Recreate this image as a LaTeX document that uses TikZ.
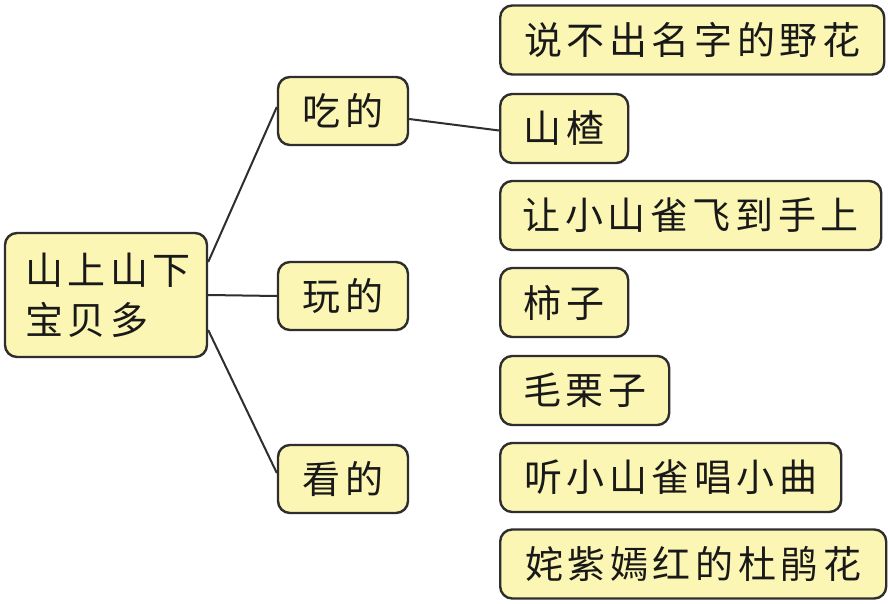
\documentclass[tikz,border=0pt]{standalone}
\usepackage{fontspec}
\newfontfamily\cjk[LetterSpace=12]{Noto Sans CJK SC}
\definecolor{boxfill}{HTML}{FCF6B4}
\definecolor{boxline}{HTML}{2E2E2E}
\tikzset{
  box/.style={draw=boxline, line width=2.4pt, fill=boxfill, rounded corners=12pt,
    minimum height=69pt, inner sep=0pt,
    font=\cjk\fontsize{38pt}{50pt}\selectfont, text=black!90},
  link/.style={draw=boxline, line width=2pt}
}
\begin{document}
\begin{tikzpicture}[x=1pt,y=-1pt]
\useasboundingbox (0,0) rectangle (888,604);
\fill[white] (0,0) rectangle (888,604);
% root
\node[box, minimum width=202pt, minimum height=124pt, text width=162pt, align=left] (root) at (106,295) {山上山下\\宝贝多};
% middle
\node[box, minimum width=130pt, minimum height=68pt] (eat) at (343,111) {吃的};
\node[box, minimum width=130pt, minimum height=68pt] (play) at (343,296) {玩的};
\node[box, minimum width=130pt, minimum height=68pt] (see) at (343,479) {看的};
% right
\node[box, minimum width=384pt, anchor=west] (r1) at (499,40) {说不出名字的野花};
\node[box, minimum width=128pt, anchor=west] (r2) at (499,128.5) {山楂};
\node[box, minimum width=381pt, anchor=west] (r3) at (499,215.5) {让小山雀飞到手上};
\node[box, minimum width=128pt, anchor=west] (r4) at (499,302.5) {柿子};
\node[box, minimum width=169pt, anchor=west] (r5) at (499,390.5) {毛栗子};
\node[box, minimum width=341pt, anchor=west] (r6) at (499,477.5) {听小山雀唱小曲};
\node[box, minimum width=386pt, anchor=west] (r7) at (499,564) {姹紫嫣红的杜鹃花};
% connectors
\draw[link] ([yshift=33pt]root.east) -- ([yshift=4pt]eat.west);
\draw[link] (root.east) -- (play.west);
\draw[link] ([yshift=-35pt]root.east) -- ([yshift=6pt]see.west);
\draw[link] ([yshift=-8pt]eat.east) -- ([yshift=-2pt]r2.west);
\end{tikzpicture}
\end{document}
